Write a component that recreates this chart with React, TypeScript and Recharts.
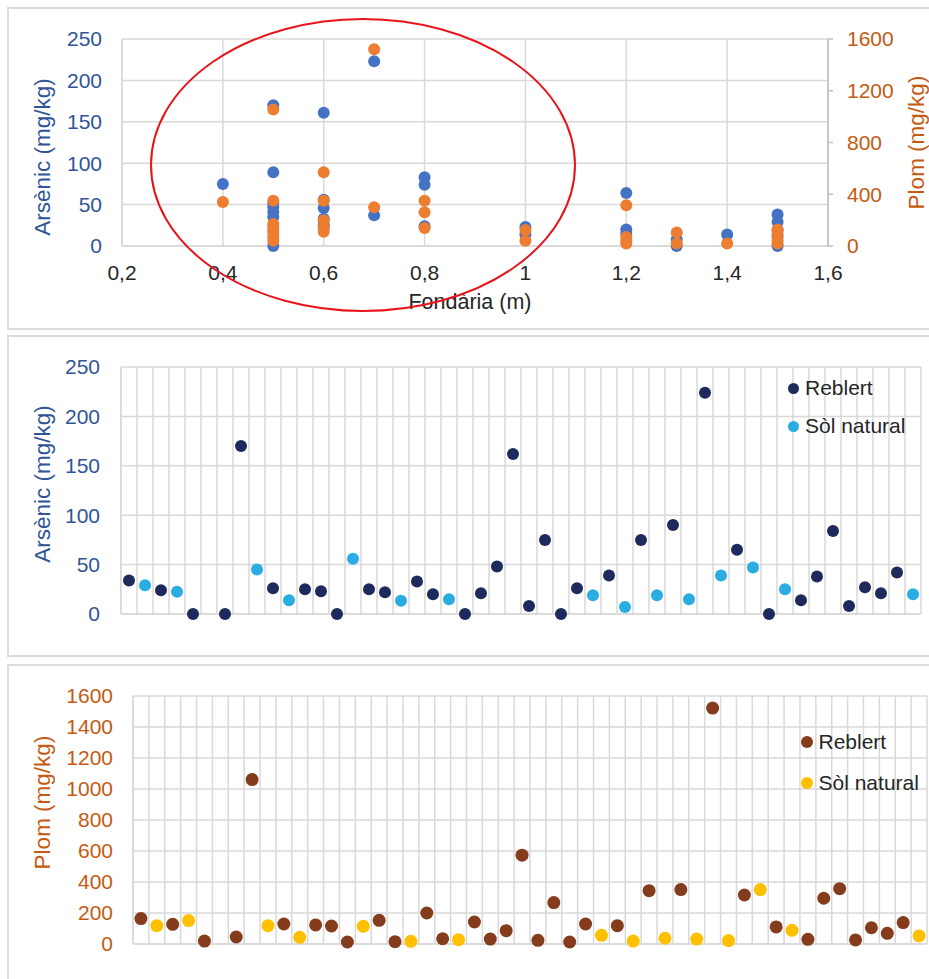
import React from 'react';
import { ScatterChart, Scatter, XAxis, YAxis, CartesianGrid, Legend, Label } from 'recharts';

const FONT = '"Liberation Sans", Arial, sans-serif';
const GRID = '#D9D9D9';
const BLUE_TXT = '#2F5597';
const ORANGE_TXT = '#C55A11';
const DARK_TXT = '#262626';

// top chart: concentration against depth
const depthTicks = [0.2, 0.4, 0.6, 0.8, 1, 1.2, 1.4, 1.6];
const asTicks = [0, 50, 100, 150, 200, 250];
const pbRightTicks = [0, 400, 800, 1200, 1600];
const pbTicks = [0, 200, 400, 600, 800, 1000, 1200, 1400, 1600];

const asDepth = [0.4, 0.5, 0.5, 0.5, 0.5, 0.5, 0.5, 0.5, 0.6, 0.6, 0.6, 0.6, 0.6, 0.6, 0.7, 0.7, 0.8, 0.8, 0.8, 1, 1, 1.2, 1.2, 1.2, 1.3, 1.3, 1.4, 1.5, 1.5, 1.5, 1.5, 1.5];
const asDepthValue = [75, 170, 89, 52, 47, 41, 35, 0, 161, 56, 46, 33, 26, 22, 223, 37, 83, 74, 24, 23, 14, 64, 20, 15, 8, 0, 14, 38, 29, 19, 11, 0];

const pbDepth = [0.4, 0.5, 0.5, 0.5, 0.5, 0.5, 0.5, 0.5, 0.5, 0.6, 0.6, 0.6, 0.6, 0.6, 0.7, 0.7, 0.8, 0.8, 0.8, 1, 1, 1.2, 1.2, 1.2, 1.2, 1.3, 1.3, 1.4, 1.5, 1.5, 1.5, 1.5];
const pbDepthValue = [340, 1055, 350, 170, 150, 120, 100, 70, 40, 570, 350, 200, 148, 110, 1520, 300, 350, 260, 140, 123, 40, 315, 70, 45, 20, 105, 20, 20, 128, 92, 45, 20];

// lower charts: one entry per sample (R = Reblert, N = Sòl natural)
const sampleType = ['R', 'N', 'R', 'N', 'R', null, 'R', 'R', 'N', 'R', 'N', 'R', 'R', 'R', 'N', 'R', 'R', 'N', 'R', 'R', 'N', 'R', 'R', 'R', 'R', 'R', 'R', 'R', 'R', 'N', 'R', 'N', 'R', 'N', 'R', 'N', 'R', 'N', 'R', 'N', 'R', 'N', 'R', 'R', 'R', 'R', 'R', 'R', 'R', 'N'];
const asSample = [34, 29, 24, 22.5, 0, null, 0, 170, 45, 26, 14, 25, 23, 0, 56, 25, 22, 13.5, 33, 20, 15, 0, 21, 48, 162, 8, 75, 0, 26, 19, 39, 7, 75, 19, 90, 15, 224, 39, 65, 47, 0, 25, 14, 38, 84, 8, 27, 21, 42, 20];
const pbSample = [164, 118, 127, 151, 19, null, 45, 1061, 118, 129, 43, 123, 116, 13, 114, 153, 15, 17, 200, 34, 28, 142, 32, 86, 573, 24, 267, 13, 129, 56, 118, 19, 344, 37, 351, 32, 1522, 22, 316, 351, 110, 88, 30, 295, 357, 26, 105, 69, 138, 52];

const sampleBounds = Array.from({ length: sampleType.length + 1 }, (_, i) => i);

const pairs = (xs: number[], ys: number[]) => xs.map((x, i) => ({ x, y: ys[i] }));
const bySample = (vals: (number | null)[], type: string) =>
  vals.flatMap((v, i) => (v != null && sampleType[i] === type ? [{ x: i + 0.5, y: v }] : []));

const dot = (r: number, color: string) => (p: any) => <circle cx={p.cx} cy={p.cy} r={r} fill={color} />;

const vTitle = (text: string, color: string, dx: number, dy: number) => (p: any) => {
  const vb = p.viewBox || {};
  const cx = vb.x + dx;
  const cy = vb.y + vb.height / 2 + dy;
  return (
    <text x={cx} y={cy} fill={color} fontSize={22.5} fontFamily={FONT} textAnchor="middle"
      dominantBaseline="central" transform={`rotate(-90 ${cx} ${cy})`}>{text}</text>
  );
};

const dotLegend = (size: number, gap: number, rowH: number) => (p: any) => (
  <div style={{ fontFamily: FONT, fontSize: 21, color: DARK_TXT }}>
    {(p.payload || []).map((e: any) => (
      <div key={e.value} style={{ display: 'flex', alignItems: 'center', height: rowH }}>
        <span style={{ width: size, height: size, borderRadius: '50%', background: e.color, marginRight: gap, flex: 'none' }} />
        <span>{e.value}</span>
      </div>
    ))}
  </div>
);

const frame = (top: number, height: number): React.CSSProperties => ({
  position: 'absolute', left: 7, top, width: 940, height, border: '2px solid #DCDCDC', boxSizing: 'border-box',
});

const fmtDepth = (v: number) => String(v).replace('.', ',');
const noLabel = () => '';

export default function App() {
  return (
    <div style={{ position: 'fixed', left: 0, top: 0, width: 929, height: 979, overflow: 'hidden', background: '#fff', fontFamily: FONT }}>
      <div style={frame(7, 323)} />
      <div style={frame(335, 322)} />
      <div style={frame(664, 330)} />

      {/* depth scatter */}
      <div style={{ position: 'absolute', left: 0, top: 0 }}>
        <ScatterChart width={929} height={330} margin={{ top: 39, right: 1, left: 22, bottom: 18 }}>
          <CartesianGrid yAxisId="left" stroke={GRID} strokeWidth={1.5} horizontalValues={asTicks} verticalValues={depthTicks} />
          <XAxis type="number" dataKey="x" domain={[0.2, 1.6]} ticks={depthTicks} interval={0} height={66}
            tickFormatter={fmtDepth} tick={{ fill: DARK_TXT, fontSize: 21 }} tickLine={false} tickSize={0} tickMargin={19}
            axisLine={{ stroke: GRID, strokeWidth: 1.5 }}>
            <Label content={(p: any) => {
              const vb = p.viewBox || {};
              return <text x={vb.x + vb.width / 2 - 5} y={vb.y + 63} fill={DARK_TXT} fontSize={21.5} fontFamily={FONT} textAnchor="middle">Fondària (m)</text>;
            }} />
          </XAxis>
          <YAxis yAxisId="left" type="number" dataKey="y" domain={[0, 250]} ticks={asTicks} interval={0} width={100}
            tick={{ fill: BLUE_TXT, fontSize: 21 }} tickLine={false} tickSize={0} tickMargin={20}
            axisLine={{ stroke: GRID, strokeWidth: 1.5 }}>
            <Label content={vTitle('Arsènic (mg/kg)', BLUE_TXT, 20, 14.5)} />
          </YAxis>
          <YAxis yAxisId="right" orientation="right" type="number" dataKey="y" domain={[0, 1600]} ticks={pbRightTicks} interval={0} width={100}
            tick={{ fill: ORANGE_TXT, fontSize: 21 }} tickLine={{ stroke: '#BFBFBF', strokeWidth: 1.5 }} tickSize={5} tickMargin={14}
            axisLine={{ stroke: '#BFBFBF', strokeWidth: 1.5 }}>
            <Label content={vTitle('Plom (mg/kg)', ORANGE_TXT, 88, 0)} />
          </YAxis>
          <Scatter name="Arsènic" yAxisId="left" data={pairs(asDepth, asDepthValue)} fill="#4472C4" shape={dot(6, '#4472C4')} isAnimationActive={false} />
          <Scatter name="Plom" yAxisId="right" data={pairs(pbDepth, pbDepthValue)} fill="#ED7D31" shape={dot(6, '#ED7D31')} isAnimationActive={false} />
        </ScatterChart>
        <svg width={929} height={330} style={{ position: 'absolute', left: 0, top: 0, pointerEvents: 'none' }}>
          <ellipse cx={363} cy={165} rx={212} ry={146} fill="none" stroke="#E8141B" strokeWidth={2} />
        </svg>
      </div>

      {/* arsenic per sample */}
      <div style={{ position: 'absolute', left: 0, top: 336 }}>
        <ScatterChart width={929} height={320} margin={{ top: 31, right: 8, left: 21, bottom: 40 }}>
          <CartesianGrid stroke={GRID} strokeWidth={1.5} horizontalValues={asTicks} verticalValues={sampleBounds} />
          <XAxis type="number" dataKey="x" domain={[0, sampleType.length]} ticks={sampleBounds} interval={0} height={2}
            tickFormatter={noLabel} tickLine={false} tickSize={0} axisLine={{ stroke: GRID, strokeWidth: 1.5 }} />
          <YAxis type="number" dataKey="y" domain={[0, 250]} ticks={asTicks} interval={0} width={100}
            tick={{ fill: BLUE_TXT, fontSize: 21 }} tickLine={false} tickSize={0} tickMargin={21}
            axisLine={{ stroke: GRID, strokeWidth: 1.5 }}>
            <Label content={vTitle('Arsènic (mg/kg)', BLUE_TXT, 21, -6.5)} />
          </YAxis>
          <Legend layout="horizontal" verticalAlign="middle" align="center" content={dotLegend(11, 6.5, 38)}
            wrapperStyle={{ left: 787.5, top: 33, width: 140, height: 76 }} />
          <Scatter name="Reblert" data={bySample(asSample, 'R')} fill="#1F2A5C" shape={dot(6, '#1F2A5C')} isAnimationActive={false} />
          <Scatter name="Sòl natural" data={bySample(asSample, 'N')} fill="#29ADE3" shape={dot(6, '#29ADE3')} isAnimationActive={false} />
        </ScatterChart>
      </div>

      {/* lead per sample */}
      <div style={{ position: 'absolute', left: 0, top: 665 }}>
        <ScatterChart width={929} height={314} margin={{ top: 31, right: 2, left: 33, bottom: 33 }}>
          <CartesianGrid stroke={GRID} strokeWidth={1.5} horizontalValues={pbTicks} verticalValues={sampleBounds} />
          <XAxis type="number" dataKey="x" domain={[0, sampleType.length]} ticks={sampleBounds} interval={0} height={2}
            tickFormatter={noLabel} tickLine={false} tickSize={0} axisLine={{ stroke: GRID, strokeWidth: 1.5 }} />
          <YAxis type="number" dataKey="y" domain={[0, 1600]} ticks={pbTicks} interval={0} width={100}
            tick={{ fill: ORANGE_TXT, fontSize: 21 }} tickLine={false} tickSize={0} tickMargin={20}
            axisLine={{ stroke: GRID, strokeWidth: 1.5 }}>
            <Label content={vTitle('Plom (mg/kg)', ORANGE_TXT, 9, -17.5)} />
          </YAxis>
          <Legend layout="horizontal" verticalAlign="middle" align="center" content={dotLegend(12, 5.5, 41)}
            wrapperStyle={{ left: 801, top: 56.5, width: 128, height: 82 }} />
          <Scatter name="Reblert" data={bySample(pbSample, 'R')} fill="#843C1C" shape={dot(6.5, '#843C1C')} isAnimationActive={false} />
          <Scatter name="Sòl natural" data={bySample(pbSample, 'N')} fill="#FFC000" shape={dot(6.5, '#FFC000')} isAnimationActive={false} />
        </ScatterChart>
      </div>
    </div>
  );
}
